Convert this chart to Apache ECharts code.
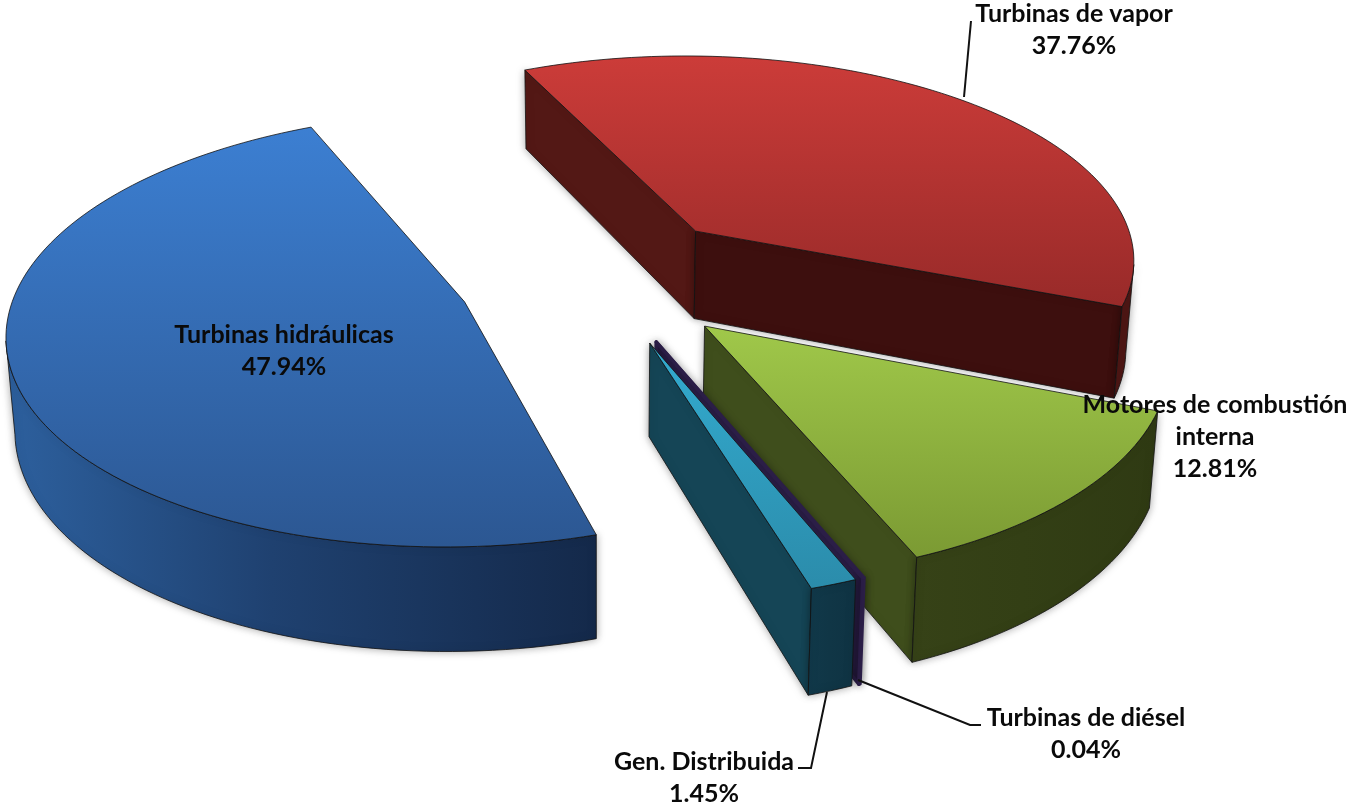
<!DOCTYPE html>
<html>
<head>
<meta charset="utf-8">
<title>Turbinas</title>
<style>
  html, body { margin: 0; padding: 0; background: #fff; }
  #chart { width: 1349px; height: 803px; }
</style>
<script src="https://cdn.jsdelivr.net/npm/echarts@6/dist/echarts.min.js"></script>
</head>
<body>
<div id="chart"></div>
<script>
// data, clockwise from the start angle
const categories = ['Turbinas de vapor', 'Motores de combustión\ninterna', 'Turbinas de diésel', 'Gen. Distribuida', 'Turbinas hidráulicas'];
const shares = [37.76, 12.81, 0.04, 1.45, 47.94];

// colours, same order as categories
const topLight = ['#cc3c39', '#a0c84a', '#37275c', '#33abcf', '#3c7fd2'];
const topDark = ['#982a29', '#7b9a33', '#37275c', '#2b8cab', '#2c5792'];
const sideWall = ['#531815', '#3f4e1c', '#2b1e47', '#154556', '#2b4f80'];
const frontWall = ['#3d0f0e', '#3f4e1c', '#2b1e47', '#154556', '#2b4f80'];
const outerFrom = ['#4e1614', '#364217', '#2b1e47', '#11394a', '#2d609e'];
const outerMid = ['#4e1614', '#333f15', '#2b1e47', '#103646', '#1f4170'];
const outerTo = ['#4e1614', '#2f3a13', '#2b1e47', '#0f3343', '#14294a'];
const minStroke = [0.8, 0.8, 3.5, 0.8, 0.8];

// label layout: centre x, first line y, leader line points
const labelX = [1074, 1215, 1086, 704, 284];
const labelY = [14, 405, 718, 762, 335];
const leaders = [
  [[964, 97], [971, 21]],
  null,
  [[858, 680], [970, 725], [981, 725]],
  [[827, 692], [811, 768], [798, 768]],
  null
];

// pie geometry
const centerX = 600, centerY = 278;
const radiusX = 446, radiusY = 208, depth = 90;
const viewDist = 8, explode = 0.32, startAngle = 114.4;
const lineHeight = 32;

function project(X, Y, Z) {
  const s = viewDist / (viewDist + Y);
  return [
    centerX + radiusX * X * s * (1 - 0.015 * Z),
    centerY - radiusY * Y * s + depth * s * Z
  ];
}

const total = shares.reduce((a, b) => a + b, 0);
let cursor = startAngle;
const slices = shares.map((v, i) => {
  const from = cursor;
  const to = cursor - v / total * 360;
  cursor = to;
  const mid = (from + to) / 2 * Math.PI / 180;
  return { i, from, to, ox: explode * Math.cos(mid), oy: explode * Math.sin(mid) };
});
const drawOrder = slices.slice().sort((a, b) => b.oy - a.oy);

function faces(sl) {
  const pt = (deg, Z) => {
    const t = deg * Math.PI / 180;
    return project(sl.ox + Math.cos(t), sl.oy + Math.sin(t), Z);
  };
  const apex = Z => project(sl.ox, sl.oy, Z);
  const facing = (nx, ny, X, Y) => nx * (-X) + ny * (-viewDist - Y) > 0;
  const steps = Math.max(2, Math.ceil((sl.from - sl.to) / 1.5));
  const angles = [];
  for (let k = 0; k <= steps; k++) angles.push(sl.from + (sl.to - sl.from) * k / steps);

  const out = [];
  const stroke = minStroke[sl.i];
  const edge = stroke > 1 ? sideWall[sl.i] : '#111';
  const poly = (points, fill, shadow) => out.push({
    type: 'polygon',
    shape: { points },
    style: Object.assign(
      { fill, stroke: edge, lineWidth: stroke, lineJoin: 'round' },
      shadow ? { shadowBlur: 9, shadowColor: 'rgba(0,0,0,0.35)' } : {}
    )
  });

  // radial walls
  [[sl.from, 90], [sl.to, -90]].forEach(([deg, turn]) => {
    const t = deg * Math.PI / 180, n = (deg + turn) * Math.PI / 180;
    if (facing(Math.cos(n), Math.sin(n), sl.ox + Math.cos(t) / 2, sl.oy + Math.sin(t) / 2)) {
      poly([apex(0), pt(deg, 0), pt(deg, 1), apex(1)], turn > 0 ? sideWall[sl.i] : frontWall[sl.i], true);
    }
  });

  // outer wall, only the part turned to the viewer
  let run = [];
  const flush = () => {
    if (run.length > 1) {
      poly(run.map(a => pt(a, 0)).concat(run.slice().reverse().map(a => pt(a, 1))), {
        type: 'linear', x: 0, y: 0, x2: 1, y2: 0,
        colorStops: [
          { offset: 0, color: outerFrom[sl.i] },
          { offset: 0.45, color: outerMid[sl.i] },
          { offset: 1, color: outerTo[sl.i] }
        ]
      }, true);
    }
    run = [];
  };
  angles.forEach(a => {
    const t = a * Math.PI / 180;
    if (facing(Math.cos(t), Math.sin(t), sl.ox + Math.cos(t), sl.oy + Math.sin(t))) run.push(a);
    else flush();
  });
  flush();

  // top
  poly([apex(0)].concat(angles.map(a => pt(a, 0))), {
    type: 'linear', x: 0, y: 0, x2: 0, y2: 1,
    colorStops: [{ offset: 0, color: topLight[sl.i] }, { offset: 1, color: topDark[sl.i] }]
  });
  return out;
}

const textFont = 'bold 25px Lato, "Open Sans", sans-serif';

const chart = echarts.init(document.getElementById('chart'));
chart.setOption({
  animation: false,
  series: [
    {
      type: 'custom',
      coordinateSystem: 'none',
      silent: true,
      data: drawOrder.map(s => s.i),
      renderItem(params, api) {
        return { type: 'group', children: faces(drawOrder[params.dataIndex]) };
      }
    },
    {
      type: 'custom',
      coordinateSystem: 'none',
      silent: true,
      z: 5,
      data: categories.map((c, i) => i),
      renderItem(params) {
        const i = params.dataIndex;
        const lines = categories[i].split('\n').concat(shares[i].toFixed(2) + '%');
        const children = lines.map((line, k) => ({
          type: 'text',
          style: {
            x: labelX[i], y: labelY[i] + k * lineHeight, text: line,
            textAlign: 'center', textVerticalAlign: 'middle', font: textFont, fill: '#0a0a0a'
          }
        }));
        if (leaders[i]) {
          children.unshift({
            type: 'polyline',
            shape: { points: leaders[i] },
            style: { fill: 'none', stroke: '#111', lineWidth: 2 }
          });
        }
        return { type: 'group', children };
      }
    }
  ]
});
</script>
</body>
</html>
